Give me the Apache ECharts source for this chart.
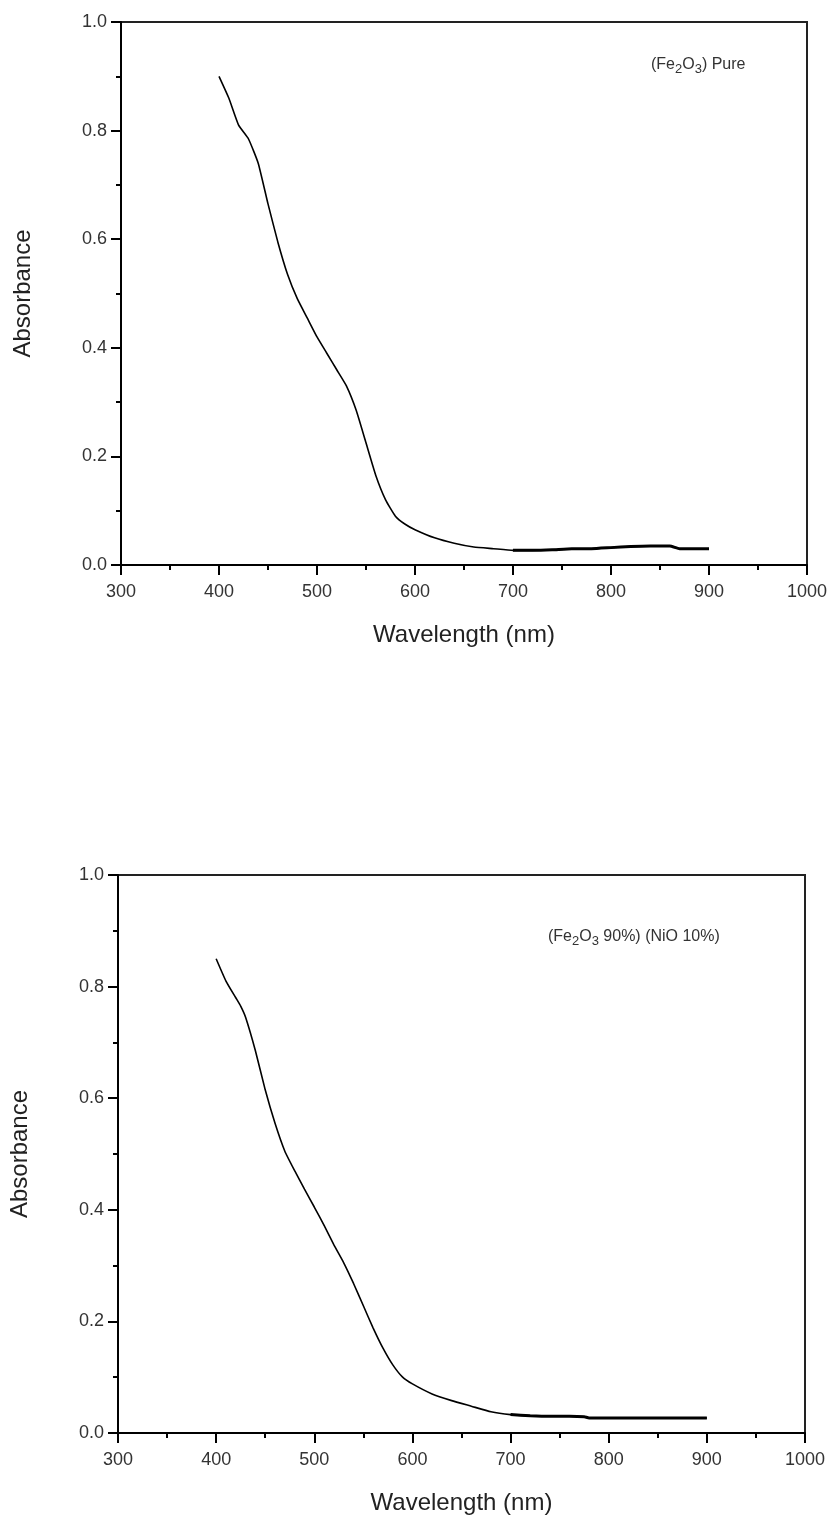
<!DOCTYPE html>
<html><head><meta charset="utf-8">
<script src="https://cdn.jsdelivr.net/npm/echarts@6/dist/echarts.min.js"></script>
<style>html,body{margin:0;padding:0;background:#fff}#c{width:834px;height:1520px}</style>
</head><body><div id="c"></div>
<script>
const wavelengthPure = [400,410,420,430,440,450,460,470,480,490,500,510,520,530,540,550,560,570,580,590,600,620,640,660,680,700,720,740,760,780,800,820,840,860,870,880,900];
const absorbPure     = [0.90,0.86,0.81,0.785,0.74,0.665,0.595,0.535,0.49,0.455,0.42,0.39,0.36,0.33,0.285,0.225,0.165,0.12,0.09,0.075,0.065,0.05,0.04,0.033,0.03,0.027,0.027,0.028,0.03,0.03,0.032,0.034,0.035,0.035,0.03,0.03,0.03];
const wavelengthMix  = [400,410,420,425,430,440,450,460,470,480,490,500,510,520,530,540,550,560,570,580,590,600,620,640,660,680,700,720,740,760,775,780,800,850,900];
const absorbMix      = [0.85,0.81,0.78,0.765,0.745,0.685,0.615,0.555,0.505,0.47,0.437,0.405,0.372,0.337,0.305,0.268,0.228,0.188,0.152,0.122,0.10,0.088,0.07,0.058,0.048,0.038,0.033,0.031,0.03,0.03,0.029,0.027,0.027,0.027,0.027];
const xTicks = [300,400,500,600,700,800,900,1000];
const yTicks = [0.0,0.2,0.4,0.6,0.8,1.0];
const xTitle = 'Wavelength (nm)';
const yTitle = 'Absorbance';
const labelPure = '{a|(Fe}{s|2}{a|O}{s|3}{a|) Pure}';
const labelMix = '{a|(Fe}{s|2}{a|O}{s|3}{a| 90%) (NiO 10%)}';

const pair = (xs, ys) => xs.map((x, i) => [x, ys[i]]);
const font = 'Liberation Sans, Arial, sans-serif';
const rich = {a:{fontFamily:font,fontSize:16,fontWeight:'normal',color:'#333'}, s:{fontFamily:font,fontSize:13,fontWeight:'normal',color:'#333',padding:[10,0,0,0]}};

function xAxis(gi){
  return {gridIndex:gi,type:'value',min:300,max:1000,interval:100,
    name:xTitle,nameLocation:'middle',nameGap:58,
    nameTextStyle:{fontFamily:font,fontSize:24,color:'#222'},
    axisLine:{show:true,onZero:false,lineStyle:{color:'#000',width:2}},
    axisTick:{show:true,inside:false,length:10,lineStyle:{color:'#000',width:2}},
    minorTick:{show:true,splitNumber:2,length:5,lineStyle:{color:'#000',width:2}},
    axisLabel:{fontFamily:font,fontSize:18,color:'#333',margin:18,
      formatter:v=>xTicks.includes(v)?String(v):''},
    splitLine:{show:false}};
}
function yAxis(gi){
  return {gridIndex:gi,type:'value',min:0,max:1,interval:0.2,
    name:yTitle,nameLocation:'middle',nameGap:86,
    nameTextStyle:{fontFamily:font,fontSize:24,color:'#222'},
    axisLine:{show:true,onZero:false,lineStyle:{color:'#000',width:2}},
    axisTick:{show:true,inside:false,length:10,lineStyle:{color:'#000',width:2}},
    minorTick:{show:true,splitNumber:2,length:5,lineStyle:{color:'#000',width:2}},
    axisLabel:{fontFamily:font,fontSize:18,color:'#333',margin:14,
      formatter:v=>yTicks.some(t=>Math.abs(t-v)<1e-9)?v.toFixed(1):''},
    splitLine:{show:false}};
}
function lineSeries(gi, xs, ys){
  return {type:'line',xAxisIndex:gi,yAxisIndex:gi,data:pair(xs,ys),showSymbol:false,smooth:0.15,
    lineStyle:{color:'#000',width:1.6},animation:false};
}
function tailSeries(gi, xs, ys, from){
  const d = pair(xs,ys).filter(p=>p[0]>=from);
  return {type:'line',xAxisIndex:gi,yAxisIndex:gi,data:d,showSymbol:false,smooth:0.15,
    lineStyle:{color:'#000',width:3},animation:false};
}

const chart = echarts.init(document.getElementById('c'), null, {renderer:'canvas'});
chart.setOption({
  backgroundColor:'#fff',
  animation:false,
  title:[
    {text:labelPure,left:646,top:48,textStyle:{rich}},
    {text:labelMix,left:543,top:920,textStyle:{rich}}
  ],
  grid:[
    {left:121,top:22,width:686,height:543,show:true,borderColor:'#222',borderWidth:2,backgroundColor:'transparent'},
    {left:113,top:875,width:692,height:558,show:true,borderColor:'#222',borderWidth:2,backgroundColor:'transparent'}
  ],
  xAxis:[xAxis(0),xAxis(1)],
  yAxis:[yAxis(0),yAxis(1)],
  series:[
    lineSeries(0,wavelengthPure,absorbPure),
    tailSeries(0,wavelengthPure,absorbPure,700),
    lineSeries(1,wavelengthMix,absorbMix),
    tailSeries(1,wavelengthMix,absorbMix,700)
  ]
});
</script></body></html>
